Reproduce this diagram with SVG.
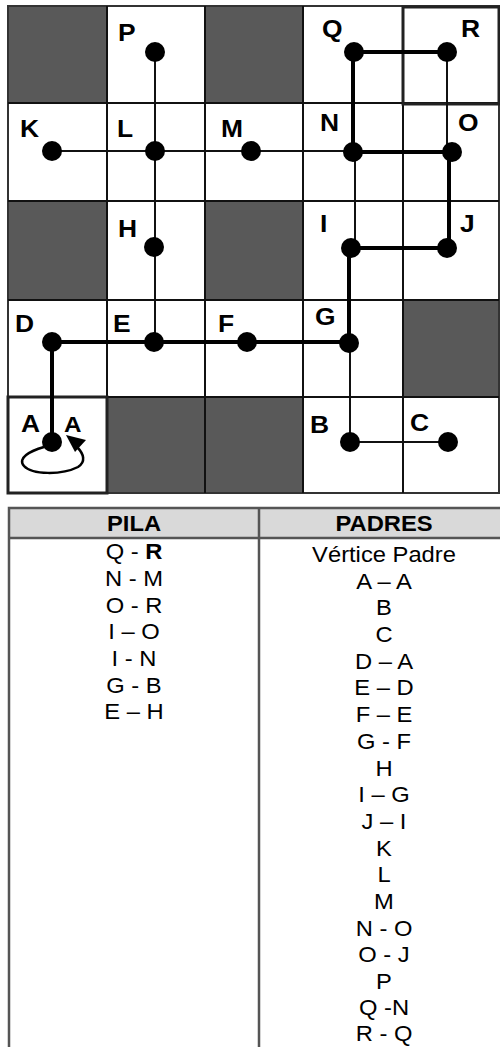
<svg xmlns="http://www.w3.org/2000/svg" width="500" height="1047" viewBox="0 0 500 1047">
<style>
.dark{fill:#595959;stroke:#333;stroke-width:2}
.cell{fill:#fff;stroke:#333;stroke-width:2}
.thickcell{fill:none;stroke:#222;stroke-width:3}
.thin{stroke:#111;stroke-width:2;fill:none}
.thick{stroke:#000;stroke-width:4;fill:none;stroke-linecap:square}
.dot{fill:#000}
.lbl{font-family:"Liberation Sans",Arial,sans-serif;font-weight:bold;font-size:24px;fill:#000}
.tb{font-family:"Liberation Sans",Arial,sans-serif;font-size:22px;fill:#000;text-anchor:middle}
.th{font-family:"Liberation Sans",Arial,sans-serif;font-size:22px;font-weight:bold;fill:#000;text-anchor:middle}
.tline{stroke:#555;stroke-width:2.5;fill:none}
</style>
<rect x="0" y="0" width="500" height="1047" fill="#fff"/>
<g id="grid">
<rect class="cell" x="8" y="6" width="491" height="487"/>
<rect class="dark" x="8" y="6" width="99" height="97"/>
<rect class="dark" x="205" y="6" width="98" height="97"/>
<rect class="dark" x="8" y="201" width="99" height="99"/>
<rect class="dark" x="205" y="201" width="98" height="99"/>
<rect class="dark" x="403" y="300" width="96" height="97"/>
<rect class="dark" x="107" y="397" width="98" height="96"/>
<rect class="dark" x="205" y="397" width="98" height="96"/>
<path class="thin" d="M107 6V493M205 6V493M303 6V493M403 6V493M8 103H499M8 201H499M8 300H499M8 397H499"/>
<rect class="thickcell" x="403" y="7" width="96" height="97"/>
<rect class="thickcell" x="8" y="397" width="99" height="96"/>
</g>
<g id="connectors">
<path class="thin" d="M52 151H353"/>
<path class="thin" d="M155 52V342"/>
<path class="thin" d="M355 152V248"/>
<path class="thin" d="M447 52V152"/>
<path class="thin" d="M350 343V442H448"/>
<path class="thick" d="M52 442V342H349V248H449V152H353V52H447"/>
<path d="M44 447C30 451 17 458 24 466C32 475 62 475 78 467C86 462 84 454 77 447" fill="none" stroke="#000" stroke-width="2.5"/>
<polygon points="66,435 86,440 75,452" fill="#000"/>
</g>
<g id="node-P"><circle class="dot" cx="155" cy="52" r="10"/><text class="lbl" transform="translate(118 41) scale(1.1 1)">P</text></g>
<g id="node-Q"><circle class="dot" cx="354" cy="52" r="10"/><text class="lbl" transform="translate(322 37) scale(1.1 1)">Q</text></g>
<g id="node-R"><circle class="dot" cx="447" cy="52" r="10"/><text class="lbl" transform="translate(461 37) scale(1.1 1)">R</text></g>
<g id="node-K"><circle class="dot" cx="52" cy="151" r="10"/><text class="lbl" transform="translate(20 137) scale(1.1 1)">K</text></g>
<g id="node-L"><circle class="dot" cx="155" cy="151" r="10"/><text class="lbl" transform="translate(117 137) scale(1.1 1)">L</text></g>
<g id="node-M"><circle class="dot" cx="251" cy="151" r="10"/><text class="lbl" transform="translate(221 137) scale(1.1 1)">M</text></g>
<g id="node-N"><circle class="dot" cx="353" cy="152" r="10"/><text class="lbl" transform="translate(320 131) scale(1.1 1)">N</text></g>
<g id="node-O"><circle class="dot" cx="452" cy="152" r="10"/><text class="lbl" transform="translate(458 131) scale(1.1 1)">O</text></g>
<g id="node-H"><circle class="dot" cx="154" cy="247" r="10"/><text class="lbl" transform="translate(118 237) scale(1.1 1)">H</text></g>
<g id="node-I"><circle class="dot" cx="351" cy="248" r="10"/><text class="lbl" transform="translate(320 232) scale(1.1 1)">I</text></g>
<g id="node-J"><circle class="dot" cx="447" cy="248" r="10"/><text class="lbl" transform="translate(460 232) scale(1.1 1)">J</text></g>
<g id="node-D"><circle class="dot" cx="52" cy="342" r="10"/><text class="lbl" transform="translate(15 332) scale(1.1 1)">D</text></g>
<g id="node-E"><circle class="dot" cx="154" cy="342" r="10"/><text class="lbl" transform="translate(113 332) scale(1.1 1)">E</text></g>
<g id="node-F"><circle class="dot" cx="247" cy="342" r="10"/><text class="lbl" transform="translate(218 332) scale(1.1 1)">F</text></g>
<g id="node-G"><circle class="dot" cx="349" cy="343" r="10"/><text class="lbl" transform="translate(315 325) scale(1.1 1)">G</text></g>
<g id="node-A"><circle class="dot" cx="52" cy="442" r="10"/><text class="lbl" transform="translate(21 432) scale(1.1 1)">A</text><text class="lbl" style="font-size:22px" transform="translate(64 432) scale(1.1 1)">A</text></g>
<g id="node-B"><circle class="dot" cx="350" cy="442" r="10"/><text class="lbl" transform="translate(310 433) scale(1.1 1)">B</text></g>
<g id="node-C"><circle class="dot" cx="448" cy="442" r="10"/><text class="lbl" transform="translate(410 431) scale(1.1 1)">C</text></g>
<g id="table">
<rect x="9" y="508" width="600" height="30" fill="#d9d9d9"/>
<rect class="tline" x="9" y="508" width="600" height="600"/>
<path class="tline" d="M9 538H509M259 508V1047"/>
<g transform="translate(134 0) scale(1.08 1)">
<text class="th" x="0" y="531">PILA</text>
<text class="tb" x="0" y="559">Q - <tspan font-weight="bold">R</tspan></text>
<text class="tb" x="0" y="586">N - M</text>
<text class="tb" x="0" y="613">O - R</text>
<text class="tb" x="0" y="639">I – O</text>
<text class="tb" x="0" y="666">I - N</text>
<text class="tb" x="0" y="693">G - B</text>
<text class="tb" x="0" y="719">E – H</text>
</g>
<g transform="translate(384 0) scale(1.08 1)">
<text class="th" x="0" y="531">PADRES</text>
<text class="tb" x="0" y="562">Vértice Padre</text>
<text class="tb" x="0" y="589">A – A</text>
<text class="tb" x="0" y="615">B</text>
<text class="tb" x="0" y="642">C</text>
<text class="tb" x="0" y="669">D – A</text>
<text class="tb" x="0" y="695">E – D</text>
<text class="tb" x="0" y="722">F – E</text>
<text class="tb" x="0" y="749">G - F</text>
<text class="tb" x="0" y="776">H</text>
<text class="tb" x="0" y="802">I – G</text>
<text class="tb" x="0" y="829">J – I</text>
<text class="tb" x="0" y="856">K</text>
<text class="tb" x="0" y="882">L</text>
<text class="tb" x="0" y="909">M</text>
<text class="tb" x="0" y="936">N - O</text>
<text class="tb" x="0" y="962">O - J</text>
<text class="tb" x="0" y="989">P</text>
<text class="tb" x="0" y="1015">Q -N</text>
<text class="tb" x="0" y="1041">R - Q</text>
</g>
</g>
</svg>
